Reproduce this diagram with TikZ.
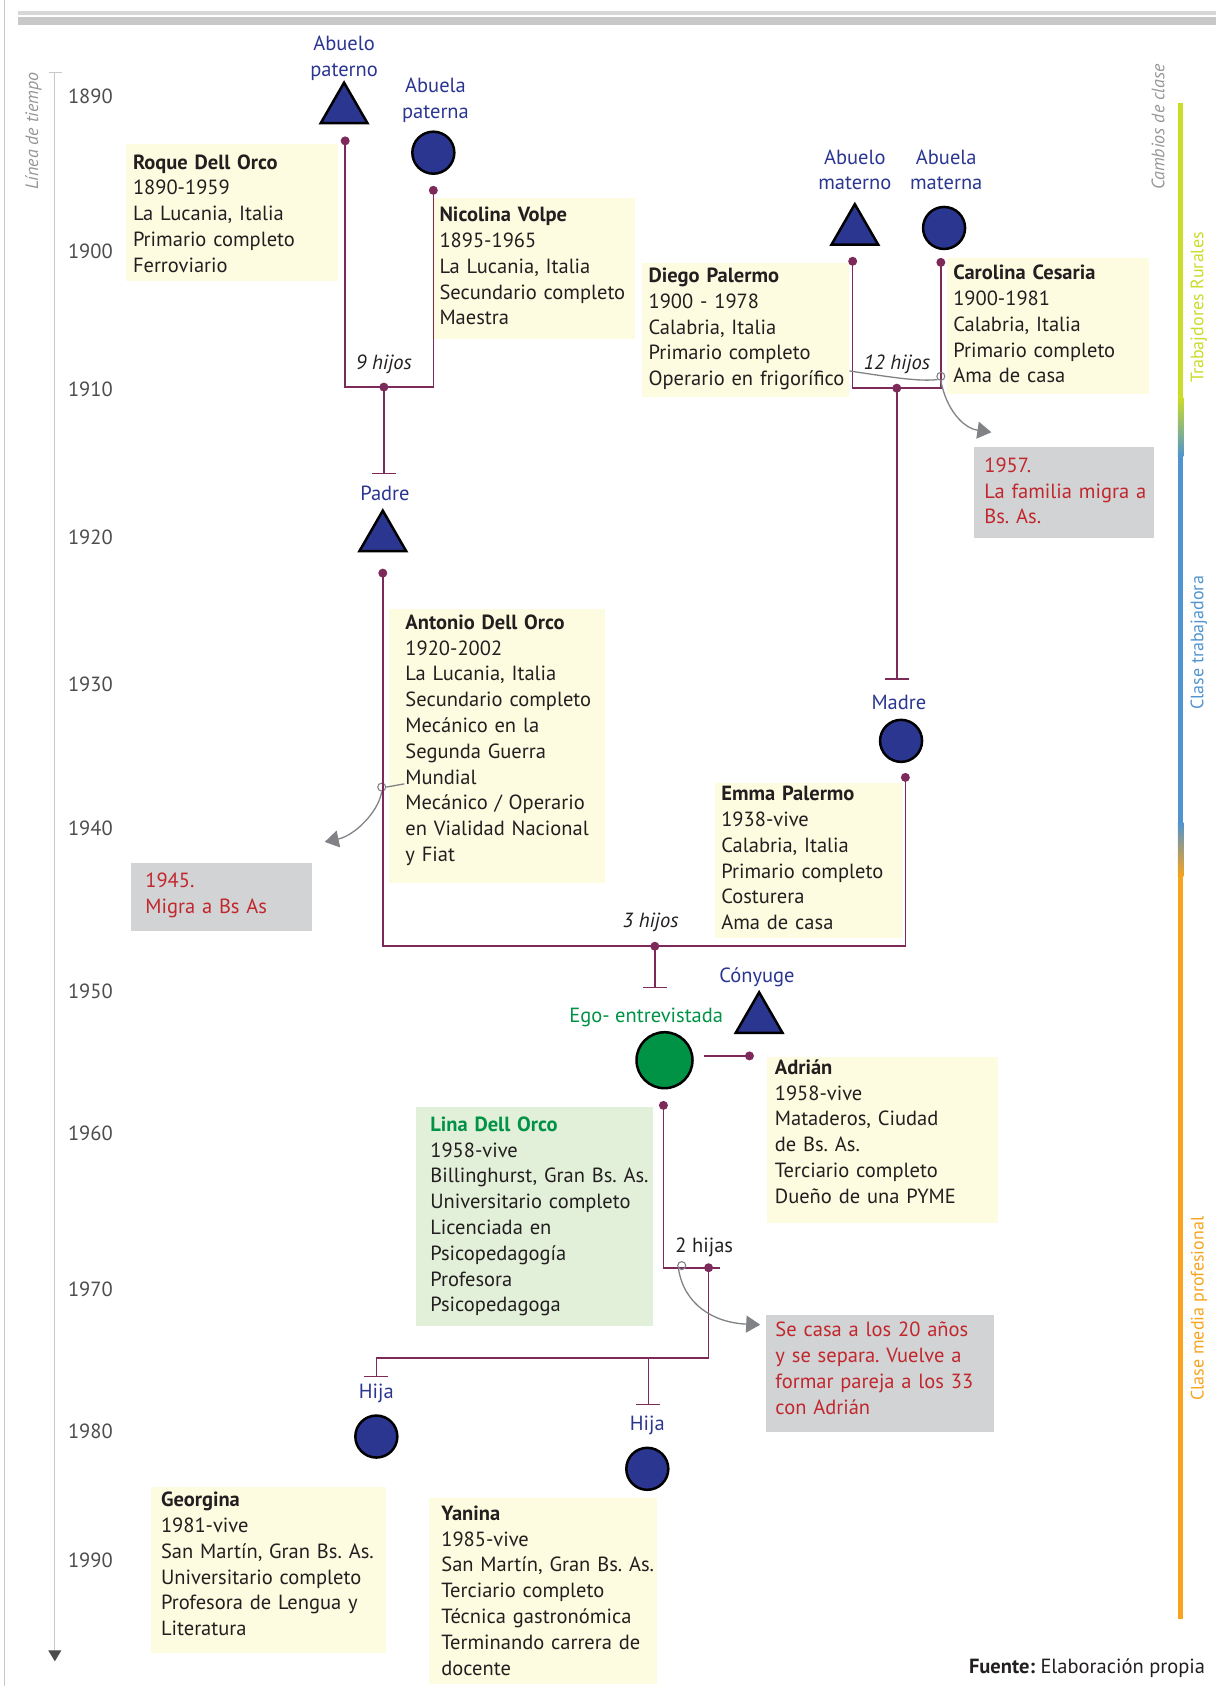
\documentclass[tikz,border=0pt]{standalone}
\usepackage{fontspec}
\setmainfont{PT Sans}
\usetikzlibrary{arrows.meta,shapes.geometric}
\frenchspacing

\definecolor{granate}{RGB}{125,42,90}
\definecolor{azul}{RGB}{43,54,145}
\definecolor{verde}{RGB}{0,146,69}
\definecolor{crema}{RGB}{253,251,224}
\definecolor{verdeclaro}{RGB}{226,239,217}
\definecolor{grisnota}{RGB}{209,211,212}
\definecolor{rojo}{RGB}{193,39,45}
\definecolor{grisflecha}{RGB}{128,130,133}
\definecolor{tinta}{RGB}{35,31,32}
\definecolor{grisanio}{RGB}{77,77,77}
\definecolor{grisclaro}{RGB}{150,150,150}
\definecolor{grismarco}{RGB}{200,200,200}
\definecolor{grisbarra}{RGB}{215,215,215}
\definecolor{lima}{RGB}{203,219,42}
\definecolor{celeste}{RGB}{80,148,207}
\definecolor{naranja}{RGB}{247,163,28}

\newcommand{\cuerpo}{\fontsize{20.5}{25.8}\selectfont}
\newcommand{\chico}{\fontsize{18}{22}\selectfont}

\begin{document}
\begin{tikzpicture}[
        x=1.0752pt, y=-1.0752pt,
        linea/.style={granate, line width=1.6pt},
        hijo/.style={linea, -{Bar[width=24pt]}},
        punto/.style={circle, fill=granate, inner sep=0pt, minimum size=9pt},
        hombre/.style={regular polygon, regular polygon sides=3, draw=black,
            line width=2.5pt, fill=azul, inner sep=0pt, minimum size=54pt},
        mujer/.style={circle, draw=black, line width=2.5pt, fill=azul,
            inner sep=0pt, minimum size=42pt},
        rotulo/.style={text=azul, font=\cuerpo, align=center},
        hijos/.style={text=tinta, font=\cuerpo\itshape},
        anio/.style={text=grisanio, font=\cuerpo, anchor=west},
        ficha/.style n args={4}{fill=crema, anchor=north west, inner sep=0pt,
            align=left, text=tinta, font=\cuerpo, text width=#2,
            text height=#3, text depth=#4,
            execute at begin node={\leftskip=#1}},
        nota/.style n args={4}{ficha={#1}{#2}{#3}{#4}, fill=grisnota, text=rojo},
        bucle/.style={circle, draw=grisflecha, line width=1.1pt, inner sep=0pt,
            minimum size=8pt},
        flecha/.style={grisflecha, line width=1.3pt,
            -{Triangle[width=17pt,length=14pt]}},
        clase/.style={rotate=90, font=\chico}
        ]

        % Frame
        \useasboundingbox (0,0) rectangle (1131,1568);
        \draw[grismarco, line width=1.6pt] (4,0) -- (4,1568);
        \fill[grisbarra] (17,10.5) rectangle (1131,13.5);
        \fill[grismarco] (17,15.5) rectangle (1131,23);

        % Time line
        \coordinate (eje-a) at (51,67);
        \coordinate (eje-b) at (51,1545);
        \draw[grismarco, line width=1pt] (46,67) -- (58,67);
        \draw[grismarco, line width=1pt,
            -{Triangle[width=13pt,length=11pt,color=grisanio]}] (eje-a) -- (eje-b);
        \node[rotate=90, text=grisclaro, font=\chico\itshape] (titulo-eje) at (31,122) {Línea de tiempo};
        \foreach \anio/\y in {1890/90, 1900/234, 1910/362, 1920/500, 1930/636,
                1940/770, 1950/922, 1960/1054, 1970/1199, 1980/1331, 1990/1451}
            \node[anio] (a\anio) at (60,\y) {\anio};

        % Class bar
        \fill[lima] (1095.5,96) rectangle (1100.5,370);
        \shade[top color=lima, bottom color=celeste] (1095.5,370) rectangle (1100.5,425);
        \fill[celeste] (1095.5,425) rectangle (1100.5,765);
        \shade[top color=celeste, bottom color=naranja] (1095.5,765) rectangle (1100.5,815);
        \fill[naranja] (1095.5,815) rectangle (1100.5,1506);
        \node[clase, text=grisclaro, font=\chico\itshape] (titulo-clase) at (1077,118) {Cambios de clase};
        \node[clase, text=lima] (rurales) at (1115,286) {Trabajdores Rurales};
        \node[clase, text=celeste] (trabajadora) at (1115,598) {Clase trabajadora};
        \node[clase, text=naranja] (media) at (1115,1217) {Clase media profesional};

        % Paternal grandparents
        \node[ficha={7pt}{212pt}{25.5pt}{112.3pt}] (roque) at (117,133.3)
            {\textbf{Roque Dell Orco}\\1890-1959\\La Lucania, Italia\\Primario completo\\Ferroviario};
        \node[ficha={7.6pt}{203pt}{23.7pt}{117.5pt}] (nicolina) at (401.5,184)
            {\textbf{Nicolina Volpe}\\1895-1965\\La Lucania, Italia\\Secundario completo\\Maestra};
        \node[rotulo] (l-abuelo-p) at (320,54) {Abuelo\\paterno};
        \node[hombre] (abuelo-p) at (320,102) {};
        \node[punto] (p1) at (321,131) {};
        \node[rotulo] (l-abuela-p) at (405,93) {Abuela\\paterna};
        \node[mujer] (abuela-p) at (403,142) {};
        \node[punto] (p2) at (403,177) {};
        \node[punto] (j1) at (357,360) {};
        \node[hijos] (h1) at (357,339) {9 hijos};
        \draw[linea] (p1.center) |- (j1.center) -| (p2.center);
        \coordinate (t1) at (357,441);
        \draw[hijo] (j1.center) -- (t1);

        % Father
        \node[ficha={16pt}{216pt}{19.9pt}{253.5pt}] (antonio) at (362,566.5)
            {\textbf{Antonio Dell Orco}\\1920-2002\\La Lucania, Italia\\Secundario completo\\Mecánico en la\\Segunda Guerra\\Mundial\\Mecánico / Operario\\en Vialidad Nacional\\y Fiat};
        \node[rotulo] (l-padre) at (358,459) {Padre};
        \node[hombre] (padre) at (356,500) {};
        \node[punto] (p3) at (356,533) {};

        % Maternal grandparents
        \node[ficha={6.5pt}{207pt}{20pt}{114.3pt}] (diego) at (597,244)
            {\textbf{Diego Palermo}\\1900 - 1978\\Calabria, Italia\\Primario completo\\Operario en frigorífico};
        \node[ficha={6pt}{202pt}{21.5pt}{113.8pt}] (carolina) at (880.8,240)
            {\textbf{Carolina Cesaria}\\1900-1981\\Calabria, Italia\\Primario completo\\Ama de casa};
        \node[rotulo] (l-abuelo-m) at (795,158) {Abuelo\\materno};
        \node[hombre] (abuelo-m) at (795,215) {};
        \node[punto] (p4) at (793,243) {};
        \node[rotulo] (l-abuela-m) at (880,158) {Abuela\\materna};
        \node[mujer] (abuela-m) at (878,212) {};
        \node[punto] (p5) at (875,244) {};
        \node[punto] (j2) at (834,361) {};
        \node[hijos] (h2) at (834,339) {12 hijos};
        \draw[linea] (p4.center) |- (j2.center) -| (p5.center);
        \coordinate (t2) at (834,632);
        \draw[hijo] (j2.center) -- (t2);

        % Mother
        \node[ficha={6.5pt}{188pt}{17.7pt}{137.4pt}] (emma) at (664.6,728)
            {\textbf{Emma Palermo}\\1938-vive\\Calabria, Italia\\Primario completo\\Costurera\\Ama de casa};
        \node[rotulo] (l-madre) at (836,653) {Madre};
        \node[mujer] (madre) at (838,689) {};
        \node[punto] (p6) at (842,723) {};

        % Migrations
        \node[nota={10pt}{179.6pt}{25.3pt}{65.9pt}] (n1957) at (906,415.5)
            {1957.\\La familia migra a\\Bs. As.};
        \node[bucle] (b1) at (875,350) {};
        \coordinate (c1) at (790,345);
        \coordinate (f1) at (922,402);
        \draw[grisflecha, line width=1.3pt] (c1) .. controls (830,351) and (855,355) .. (b1.south west);
        \draw[flecha] (b1.south) .. controls (880,380) and (895,398) .. (f1);

        \node[nota={14.5pt}{181pt}{24.8pt}{43.4pt}] (n1945) at (121.5,802.5)
            {1945.\\Migra a Bs As};
        \node[bucle] (b2) at (355,732) {};
        \coordinate (c2) at (376,729);
        \coordinate (f2) at (302,783);
        \draw[grisflecha, line width=1.3pt] (c2) -- (b2.east);
        \draw[flecha] (b2.south) .. controls (352,755) and (330,777) .. (f2);

        % Parents
        \node[punto] (j3) at (609,880) {};
        \node[hijos] (h3) at (605,858) {3 hijos};
        \draw[linea] (p3.center) |- (j3.center) -| (p6.center);
        \coordinate (t3) at (609,919);
        \draw[hijo] (j3.center) -- (t3);

        % Ego and spouse
        \node[ficha={8pt}{231pt}{17.6pt}{148.9pt}] (adrian) at (713,982.6)
            {\textbf{Adrián}\\1958-vive\\Mataderos, Ciudad\\de Bs. As.\\Terciario completo\\Dueño de una PYME};
        \node[ficha={14pt}{237pt}{24pt}{194.6pt}, fill=verdeclaro] (lina) at (387,1029.6)
            {\textcolor{verde}{\textbf{Lina Dell Orco}}\\1958-vive\\Billinghurst, Gran Bs. As.\\Universitario completo\\Licenciada en\\Psicopedagogía\\Profesora\\Psicopedagoga};
        \node[rotulo, text=verde] (l-ego) at (601,946) {Ego- entrevistada};
        \node[mujer, fill=verde, minimum size=56pt] (ego) at (618,986) {};
        \node[rotulo] (l-conyuge) at (704,909) {Cónyuge};
        \node[hombre] (conyuge) at (706,948) {};
        \node[punto] (p7) at (697,982) {};
        \draw[linea] ([xshift=10pt]ego.east |- p7.center) -- (p7.center);
        \node[punto] (p8) at (617,1028) {};

        % Daughters
        \node[punto] (j4) at (659,1179) {};
        \node[text=tinta, font=\cuerpo] (h4) at (655,1160) {2 hijas};
        \coordinate (fin) at (670,1179);
        \draw[linea] (p8.center) |- (fin);
        \coordinate (q1) at (350,1263);
        \coordinate (t4) at (350,1281);
        \draw[hijo] (j4.center) |- (q1) -- (t4);
        \coordinate (q2) at (603,1263);
        \coordinate (t5) at (603,1307);
        \draw[hijo] (q2) -- (t5);

        \node[nota={9.7pt}{228pt}{21.5pt}{95.7pt}] (n-pareja) at (712,1223)
            {Se casa a los 20 años\\y se separa. Vuelve a\\formar pareja a los 33\\con Adrián};
        \node[bucle] (b3) at (634,1177) {};
        \coordinate (f3) at (707,1232);
        \draw[flecha] (b3.south west) .. controls (636,1212) and (662,1230) .. (f3);

        \node[ficha={10.3pt}{235.5pt}{19.9pt}{145.9pt}] (georgina) at (140,1382.5)
            {\textbf{Georgina}\\1981-vive\\San Martín, Gran Bs. As.\\Universitario completo\\Profesora de Lengua y\\Literatura};
        \node[ficha={12.7pt}{228pt}{22.3pt}{163.8pt}] (yanina) at (398.5,1393)
            {\textbf{Yanina}\\1985-vive\\San Martín, Gran Bs. As.\\Terciario completo\\Técnica gastronómica\\Terminando carrera de\\docente};
        \node[rotulo] (l-hija1) at (350,1296) {Hija};
        \node[mujer] (hija1) at (350,1336) {};
        \node[rotulo] (l-hija2) at (602,1326) {Hija};
        \node[mujer] (hija2) at (602,1366) {};

        % Source
        \node[anchor=east, text=tinta, font=\cuerpo] (fuente) at (1124,1551)
            {\textbf{Fuente:} Elaboración propia};
    \end{tikzpicture}
\end{document}
